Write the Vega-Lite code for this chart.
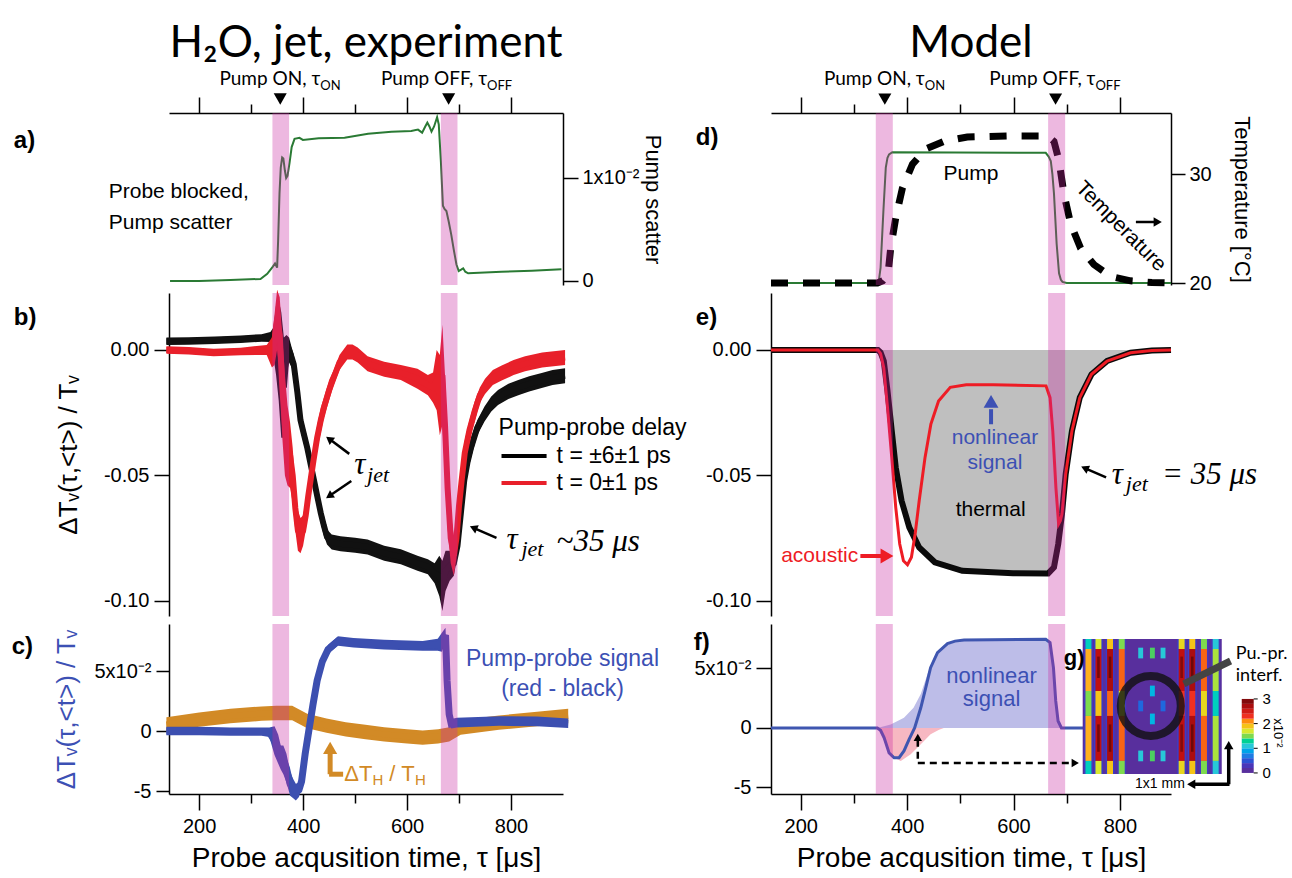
{
"$schema": "https://vega.github.io/schema/vega-lite/v6.json",
"background": "white",
"padding": {"left": 11, "top": 21, "right": 6, "bottom": 0},
"config": {
  "view": {"stroke": null},
  "font": "Liberation Sans",
  "axis": {"grid": false, "domainColor": "#000000", "tickColor": "#000000", "labelColor": "#000000", "titleColor": "#000000", "domainWidth": 1.5, "tickWidth": 1.5, "labelFontSize": 20, "titleFontWeight": "normal", "labelFont": "Liberation Sans", "titleFont": "Liberation Sans"}
},
"datasets": {
  "bands": [{"x":341,"x2":373},{"x":665,"x2":697}],
  "a_line": [{"x":144,"y":0.0},{"x":200,"y":0.0},{"x":260,"y":0.01},{"x":318,"y":0.02},{"x":331,"y":0.07},{"x":341.8,"y":0.14},{"x":346,"y":0.17},{"x":350,"y":0.13},{"x":352,"y":0.4},{"x":354.6,"y":0.85},{"x":357,"y":1.1},{"x":359.7,"y":1.2},{"x":362,"y":1.19},{"x":365,"y":1.07},{"x":367.4,"y":1.0},{"x":370,"y":1.02},{"x":374,"y":1.15},{"x":378,"y":1.3},{"x":383.5,"y":1.38},{"x":393,"y":1.39},{"x":399.6,"y":1.37},{"x":430,"y":1.385},{"x":479.8,"y":1.39},{"x":525,"y":1.43},{"x":570,"y":1.45},{"x":608,"y":1.456},{"x":621,"y":1.47},{"x":629,"y":1.44},{"x":635,"y":1.5},{"x":639,"y":1.537},{"x":643,"y":1.5},{"x":647,"y":1.45},{"x":652,"y":1.5},{"x":657.8,"y":1.59},{"x":661,"y":1.52},{"x":665,"y":1.165},{"x":669,"y":0.73},{"x":672,"y":0.7},{"x":675.7,"y":0.68},{"x":680,"y":0.58},{"x":685,"y":0.45},{"x":690,"y":0.3},{"x":695,"y":0.16},{"x":699.4,"y":0.097},{"x":704,"y":0.11},{"x":708,"y":0.123},{"x":712,"y":0.09},{"x":717.5,"y":0.075},{"x":781.7,"y":0.09},{"x":840,"y":0.1},{"x":897,"y":0.113}],
  "b_black": [{"x":137,"v":0.0035,"e":0.0015},{"x":180,"v":0.0036,"e":0.0015},{"x":230,"v":0.0039,"e":0.0015},{"x":280,"v":0.0043,"e":0.0015},{"x":320,"v":0.0048,"e":0.0015},{"x":337,"v":0.0052,"e":0.002},{"x":343,"v":0.003,"e":0.006},{"x":348,"v":0.004,"e":0.014},{"x":353,"v":0.0,"e":0.02},{"x":358,"v":-0.01,"e":0.025},{"x":363,"v":-0.015,"e":0.02},{"x":368,"v":-0.002,"e":0.008},{"x":373,"v":0.0,"e":0.005},{"x":378,"v":-0.003,"e":0.004},{"x":382,"v":-0.0057,"e":0.004},{"x":389,"v":-0.017,"e":0.004},{"x":395,"v":-0.028,"e":0.004},{"x":402,"v":-0.034,"e":0.004},{"x":408,"v":-0.039,"e":0.004},{"x":415,"v":-0.046,"e":0.004},{"x":421,"v":-0.052,"e":0.004},{"x":428,"v":-0.059,"e":0.004},{"x":434,"v":-0.065,"e":0.004},{"x":440,"v":-0.07,"e":0.004},{"x":446,"v":-0.0745,"e":0.003},{"x":455,"v":-0.0765,"e":0.003},{"x":472,"v":-0.0772,"e":0.003},{"x":500,"v":-0.0778,"e":0.003},{"x":524,"v":-0.0785,"e":0.003},{"x":556,"v":-0.081,"e":0.003},{"x":588,"v":-0.0824,"e":0.003},{"x":620,"v":-0.085,"e":0.003},{"x":640,"v":-0.0864,"e":0.003},{"x":653,"v":-0.089,"e":0.004},{"x":662,"v":-0.09,"e":0.008},{"x":668,"v":-0.094,"e":0.01},{"x":674,"v":-0.088,"e":0.008},{"x":682,"v":-0.086,"e":0.006},{"x":690,"v":-0.085,"e":0.005},{"x":697,"v":-0.078,"e":0.004},{"x":704,"v":-0.064,"e":0.004},{"x":710,"v":-0.052,"e":0.004},{"x":716,"v":-0.045,"e":0.004},{"x":723,"v":-0.039,"e":0.004},{"x":735,"v":-0.031,"e":0.003},{"x":749,"v":-0.0255,"e":0.003},{"x":762,"v":-0.0215,"e":0.003},{"x":775,"v":-0.0189,"e":0.003},{"x":795,"v":-0.0165,"e":0.003},{"x":814,"v":-0.015,"e":0.003},{"x":835,"v":-0.0135,"e":0.003},{"x":859,"v":-0.0122,"e":0.003},{"x":880,"v":-0.011,"e":0.003},{"x":904,"v":-0.0103,"e":0.003}],
  "b_red": [{"x":137,"v":0.0,"e":0.0015},{"x":180,"v":-0.0003,"e":0.0015},{"x":228,"v":-0.001,"e":0.0015},{"x":280,"v":-0.0006,"e":0.0015},{"x":330,"v":0.0,"e":0.002},{"x":340,"v":-0.001,"e":0.006},{"x":345,"v":0.004,"e":0.01},{"x":350,"v":0.012,"e":0.012},{"x":355,"v":0.006,"e":0.015},{"x":360,"v":-0.015,"e":0.02},{"x":365,"v":-0.03,"e":0.02},{"x":370,"v":-0.038,"e":0.016},{"x":375,"v":-0.042,"e":0.013},{"x":380,"v":-0.05,"e":0.011},{"x":385,"v":-0.063,"e":0.009},{"x":390,"v":-0.072,"e":0.008},{"x":395,"v":-0.074,"e":0.007},{"x":400,"v":-0.072,"e":0.006},{"x":405,"v":-0.066,"e":0.006},{"x":410,"v":-0.058,"e":0.005},{"x":415,"v":-0.051,"e":0.005},{"x":420,"v":-0.044,"e":0.005},{"x":427,"v":-0.035,"e":0.005},{"x":434,"v":-0.028,"e":0.005},{"x":440,"v":-0.023,"e":0.004},{"x":450,"v":-0.016,"e":0.004},{"x":459,"v":-0.011,"e":0.003},{"x":470,"v":-0.005,"e":0.003},{"x":485,"v":-0.0008,"e":0.003},{"x":495,"v":-0.0008,"e":0.003},{"x":505,"v":-0.002,"e":0.003},{"x":524,"v":-0.0055,"e":0.003},{"x":556,"v":-0.0077,"e":0.003},{"x":588,"v":-0.009,"e":0.003},{"x":620,"v":-0.0115,"e":0.004},{"x":640,"v":-0.014,"e":0.004},{"x":650,"v":-0.015,"e":0.006},{"x":657,"v":-0.012,"e":0.012},{"x":663,"v":-0.018,"e":0.016},{"x":668,"v":-0.01,"e":0.02},{"x":673,"v":-0.03,"e":0.02},{"x":678,"v":-0.055,"e":0.016},{"x":684,"v":-0.075,"e":0.01},{"x":690,"v":-0.082,"e":0.008},{"x":695,"v":-0.075,"e":0.008},{"x":700,"v":-0.062,"e":0.007},{"x":705,"v":-0.052,"e":0.006},{"x":711,"v":-0.041,"e":0.005},{"x":720,"v":-0.032,"e":0.004},{"x":730,"v":-0.0245,"e":0.004},{"x":740,"v":-0.018,"e":0.003},{"x":750,"v":-0.0145,"e":0.003},{"x":765,"v":-0.011,"e":0.003},{"x":782,"v":-0.0092,"e":0.003},{"x":805,"v":-0.007,"e":0.003},{"x":827,"v":-0.0055,"e":0.003},{"x":860,"v":-0.004,"e":0.003},{"x":904,"v":-0.003,"e":0.003}],
  "c_blue": [{"x":137,"v":0.0,"e":0.35},{"x":200,"v":0.0,"e":0.35},{"x":260,"v":-0.05,"e":0.35},{"x":320,"v":-0.05,"e":0.35},{"x":335,"v":-0.1,"e":0.4},{"x":345,"v":-0.8,"e":1.2},{"x":352,"v":-1.5,"e":1.2},{"x":357,"v":-2.2,"e":1.0},{"x":362,"v":-2.4,"e":1.2},{"x":368,"v":-3.1,"e":1.2},{"x":375,"v":-4.4,"e":1.0},{"x":381,"v":-4.8,"e":0.8},{"x":386,"v":-5.1,"e":0.7},{"x":392,"v":-4.9,"e":0.6},{"x":397,"v":-4.2,"e":0.6},{"x":404,"v":-1.9,"e":0.8},{"x":412,"v":0.3,"e":0.8},{"x":419,"v":2.2,"e":0.8},{"x":427,"v":4.2,"e":0.7},{"x":437,"v":5.8,"e":0.5},{"x":448,"v":6.8,"e":0.4},{"x":467,"v":7.5,"e":0.4},{"x":497,"v":7.36,"e":0.4},{"x":556,"v":7.2,"e":0.4},{"x":630,"v":7.1,"e":0.4},{"x":659,"v":7.2,"e":0.5},{"x":667,"v":7.4,"e":0.8},{"x":674,"v":8.0,"e":0.6},{"x":677,"v":4.2,"e":1.2},{"x":681,"v":1.4,"e":0.8},{"x":685,"v":0.6,"e":0.4},{"x":696,"v":0.7,"e":0.4},{"x":777,"v":0.83,"e":0.4},{"x":850,"v":0.8,"e":0.4},{"x":910,"v":0.65,"e":0.4}],
  "c_orange": [{"x":137,"v":0.55,"e":0.6},{"x":200,"v":0.95,"e":0.6},{"x":260,"v":1.25,"e":0.6},{"x":320,"v":1.45,"e":0.6},{"x":349,"v":1.5,"e":0.6},{"x":379,"v":1.5,"e":0.6},{"x":408,"v":0.83,"e":0.6},{"x":445,"v":0.45,"e":0.6},{"x":482,"v":0.14,"e":0.6},{"x":520,"v":-0.08,"e":0.6},{"x":556,"v":-0.28,"e":0.6},{"x":600,"v":-0.45,"e":0.6},{"x":630,"v":-0.55,"e":0.6},{"x":660,"v":-0.45,"e":0.6},{"x":681,"v":-0.28,"e":0.6},{"x":703,"v":0.28,"e":0.6},{"x":740,"v":0.5,"e":0.6},{"x":777,"v":0.7,"e":0.6},{"x":850,"v":1.0,"e":0.6},{"x":910,"v":1.25,"e":0.6}],
  "d_pump": [{"x":144,"y":20},{"x":344,"y":20},{"x":347,"y":20.3},{"x":350,"y":21.4},{"x":355.4,"y":26.7},{"x":359.8,"y":30.6},{"x":363,"y":31.5},{"x":366,"y":31.8},{"x":372,"y":32},{"x":660.5,"y":31.95},{"x":666,"y":31.6},{"x":670,"y":31.2},{"x":673,"y":30},{"x":676,"y":28.2},{"x":681,"y":23.6},{"x":685.5,"y":20.9},{"x":689,"y":20.3},{"x":692,"y":20.1},{"x":700,"y":20},{"x":896,"y":20}],
  "d_temp": [{"x":144,"y":20},{"x":344,"y":20},{"x":354,"y":20.2},{"x":364,"y":20.8},{"x":369,"y":23.2},{"x":378.6,"y":26},{"x":391,"y":28.7},{"x":410,"y":30.9},{"x":435,"y":32.3},{"x":469,"y":33},{"x":513,"y":33.4},{"x":590,"y":33.5},{"x":664,"y":33.5},{"x":676,"y":33},{"x":685.5,"y":31.2},{"x":695,"y":28.1},{"x":707.5,"y":25.4},{"x":726,"y":23.2},{"x":751,"y":21.7},{"x":783,"y":20.6},{"x":820,"y":20.2},{"x":860,"y":20.05},{"x":896,"y":20}],
  "e_black": [{"x":144,"y":0},{"x":345,"y":0},{"x":350,"y":-0.001},{"x":356,"y":-0.0044},{"x":363,"y":-0.0163},{"x":371,"y":-0.0322},{"x":378.5,"y":-0.0468},{"x":389.5,"y":-0.0601},{"x":404,"y":-0.0707},{"x":422.6,"y":-0.0787},{"x":452,"y":-0.0846},{"x":503.5,"y":-0.088},{"x":599,"y":-0.089},{"x":665,"y":-0.0891},{"x":676,"y":-0.0866},{"x":684,"y":-0.0773},{"x":691,"y":-0.0654},{"x":698,"y":-0.0495},{"x":709.8,"y":-0.0322},{"x":724.5,"y":-0.019},{"x":746.5,"y":-0.0097},{"x":776,"y":-0.0044},{"x":820,"y":-0.0011},{"x":860,"y":-0.0002},{"x":896,"y":0}],
  "e_red": [{"x":144,"y":0},{"x":345,"y":0},{"x":350,"y":-0.0015},{"x":356,"y":-0.0071},{"x":363,"y":-0.0229},{"x":371,"y":-0.0428},{"x":378.5,"y":-0.0627},{"x":386,"y":-0.0773},{"x":393,"y":-0.084},{"x":400.6,"y":-0.0856},{"x":408,"y":-0.0826},{"x":415,"y":-0.0733},{"x":422.6,"y":-0.0601},{"x":433.6,"y":-0.0428},{"x":444.6,"y":-0.0295},{"x":459,"y":-0.0203},{"x":481,"y":-0.0149},{"x":511,"y":-0.0139},{"x":562,"y":-0.0139},{"x":661,"y":-0.0143},{"x":668.6,"y":-0.019},{"x":673.7,"y":-0.0322},{"x":679.6,"y":-0.0548},{"x":684.7,"y":-0.0693},{"x":688,"y":-0.068},{"x":691,"y":-0.0654},{"x":698,"y":-0.0495},{"x":709.8,"y":-0.0322},{"x":724.5,"y":-0.019},{"x":746.5,"y":-0.0097},{"x":776,"y":-0.0044},{"x":820,"y":-0.0011},{"x":860,"y":-0.0002},{"x":896,"y":0}],
  "f_blue": [{"x":144,"y":0},{"x":344,"y":0},{"x":350,"y":-0.2},{"x":356.6,"y":-0.8},{"x":366,"y":-2.1},{"x":375.4,"y":-2.5},{"x":384.8,"y":-2.5},{"x":394,"y":-1.93},{"x":403.6,"y":-0.95},{"x":414,"y":0},{"x":425.6,"y":1.7},{"x":435,"y":3.4},{"x":444,"y":5.07},{"x":457,"y":6.33},{"x":475.8,"y":7.09},{"x":490,"y":7.3},{"x":507,"y":7.39},{"x":660.5,"y":7.45},{"x":668.6,"y":7.17},{"x":675,"y":5.07},{"x":679.3,"y":2.27},{"x":683.7,"y":0.59},{"x":690,"y":0},{"x":896,"y":0}],
  "f_nl": [{"x":344,"y":0},{"x":369,"y":0.3},{"x":394,"y":0.87},{"x":412,"y":1.7},{"x":425.6,"y":2.85},{"x":438,"y":4.5},{"x":450,"y":5.9},{"x":469,"y":6.9},{"x":494.5,"y":7.3},{"x":507,"y":7.39},{"x":660.5,"y":7.45},{"x":668.6,"y":7.17},{"x":675,"y":5.07},{"x":679.3,"y":2.27},{"x":683.7,"y":0.59},{"x":690,"y":0}],
  "f_ac": [{"x":344,"y":0},{"x":350,"y":-0.5},{"x":363,"y":-1.65},{"x":375.4,"y":-2.5},{"x":388,"y":-2.77},{"x":406.7,"y":-2.2},{"x":425.6,"y":-1.37},{"x":444,"y":-0.53},{"x":460,"y":-0.14},{"x":469,"y":0}],
  "g_cells": [
    {"x":730,"x2":991.4,"y":-3.87,"y2":7.48,"v":0.1},
    {"x":732.4,"x2":749.2,"y":-3.87,"y2":7.48,"v":0.35},
    {"x":751.2,"x2":768.0,"y":-3.87,"y2":7.48,"v":0.4},
    {"x":773.0,"x2":789.8,"y":-3.87,"y2":7.48,"v":0.4},
    {"x":795.0,"x2":811.8,"y":-3.87,"y2":7.48,"v":0.35},
    {"x":907.6,"x2":924.4,"y":-3.87,"y2":7.48,"v":0.4},
    {"x":927.6,"x2":944.4,"y":-3.87,"y2":7.48,"v":0.4},
    {"x":949.6,"x2":966.4,"y":-3.87,"y2":7.48,"v":0.35},
    {"x":971.6,"x2":988.4,"y":-3.87,"y2":7.48,"v":0.3},
    {"x":735.2,"x2":746.4,"y":6.64,"y2":7.48,"v":1.2},
    {"x":735.2,"x2":746.4,"y":3.11,"y2":6.64,"v":2.0},
    {"x":735.2,"x2":746.4,"y":1.01,"y2":3.11,"v":1.5},
    {"x":735.2,"x2":746.4,"y":-2.77,"y2":1.01,"v":2.0},
    {"x":735.2,"x2":746.4,"y":-3.87,"y2":-2.77,"v":1.2},
    {"x":754.0,"x2":765.2,"y":6.64,"y2":7.48,"v":1.7},
    {"x":754.0,"x2":765.2,"y":3.11,"y2":6.64,"v":2.6},
    {"x":754.0,"x2":765.2,"y":1.01,"y2":3.11,"v":1.9},
    {"x":754.0,"x2":765.2,"y":-2.77,"y2":1.01,"v":2.6},
    {"x":754.0,"x2":765.2,"y":-3.87,"y2":-2.77,"v":1.7},
    {"x":775.8,"x2":787.0,"y":6.64,"y2":7.48,"v":1.9},
    {"x":775.8,"x2":787.0,"y":3.11,"y2":6.64,"v":2.7},
    {"x":775.8,"x2":787.0,"y":1.01,"y2":3.11,"v":2.2},
    {"x":775.8,"x2":787.0,"y":-2.77,"y2":1.01,"v":2.7},
    {"x":775.8,"x2":787.0,"y":-3.87,"y2":-2.77,"v":1.9},
    {"x":797.8,"x2":809.0,"y":6.64,"y2":7.48,"v":1.5},
    {"x":797.8,"x2":809.0,"y":3.11,"y2":6.64,"v":2.2},
    {"x":797.8,"x2":809.0,"y":1.01,"y2":3.11,"v":1.7},
    {"x":797.8,"x2":809.0,"y":-2.77,"y2":1.01,"v":2.2},
    {"x":797.8,"x2":809.0,"y":-3.87,"y2":-2.77,"v":1.5},
    {"x":910.4,"x2":921.6,"y":6.64,"y2":7.48,"v":1.8},
    {"x":910.4,"x2":921.6,"y":3.11,"y2":6.64,"v":2.6},
    {"x":910.4,"x2":921.6,"y":1.01,"y2":3.11,"v":2.3},
    {"x":910.4,"x2":921.6,"y":-2.77,"y2":1.01,"v":2.6},
    {"x":910.4,"x2":921.6,"y":-3.87,"y2":-2.77,"v":1.8},
    {"x":930.4,"x2":941.6,"y":6.64,"y2":7.48,"v":1.9},
    {"x":930.4,"x2":941.6,"y":3.11,"y2":6.64,"v":2.7},
    {"x":930.4,"x2":941.6,"y":1.01,"y2":3.11,"v":2.3},
    {"x":930.4,"x2":941.6,"y":-2.77,"y2":1.01,"v":2.7},
    {"x":930.4,"x2":941.6,"y":-3.87,"y2":-2.77,"v":1.9},
    {"x":952.4,"x2":963.6,"y":6.64,"y2":7.48,"v":1.5},
    {"x":952.4,"x2":963.6,"y":3.11,"y2":6.64,"v":2.2},
    {"x":952.4,"x2":963.6,"y":1.01,"y2":3.11,"v":1.8},
    {"x":952.4,"x2":963.6,"y":-2.77,"y2":1.01,"v":2.2},
    {"x":952.4,"x2":963.6,"y":-3.87,"y2":-2.77,"v":1.5},
    {"x":974.4,"x2":985.6,"y":6.64,"y2":7.48,"v":1.1},
    {"x":974.4,"x2":985.6,"y":3.11,"y2":6.64,"v":1.6},
    {"x":974.4,"x2":985.6,"y":1.01,"y2":3.11,"v":1.2},
    {"x":974.4,"x2":985.6,"y":-2.77,"y2":1.01,"v":1.6},
    {"x":974.4,"x2":985.6,"y":-3.87,"y2":-2.77,"v":1.1},
    {"x":757.2,"x2":762.0,"y":4.2,"y2":6.0,"v":2.95},
    {"x":757.2,"x2":762.0,"y":-2.0,"y2":0.3,"v":2.95},
    {"x":779.0,"x2":783.8,"y":4.2,"y2":6.0,"v":3.0},
    {"x":779.0,"x2":783.8,"y":-2.0,"y2":0.3,"v":3.0},
    {"x":913.6,"x2":918.4,"y":4.2,"y2":6.0,"v":2.9},
    {"x":913.6,"x2":918.4,"y":-2.0,"y2":0.3,"v":2.9},
    {"x":933.6,"x2":938.4,"y":4.2,"y2":6.0,"v":3.0},
    {"x":933.6,"x2":938.4,"y":-2.0,"y2":0.3,"v":3.0},
    {"x":834.4,"x2":843.6,"y":5.85,"y2":6.75,"v":1.1},
    {"x":834.4,"x2":843.6,"y":1.4,"y2":2.3,"v":0.6},
    {"x":834.4,"x2":843.6,"y":-2.8,"y2":-1.9,"v":1.1},
    {"x":856.4,"x2":865.6,"y":5.85,"y2":6.75,"v":1.4},
    {"x":856.4,"x2":865.6,"y":2.66,"y2":3.56,"v":1.0},
    {"x":856.4,"x2":865.6,"y":0.31,"y2":1.21,"v":1.0},
    {"x":856.4,"x2":865.6,"y":-2.8,"y2":-1.9,"v":1.4},
    {"x":876.4,"x2":885.6,"y":5.85,"y2":6.75,"v":1.1},
    {"x":876.4,"x2":885.6,"y":1.4,"y2":2.3,"v":0.6},
    {"x":876.4,"x2":885.6,"y":-2.8,"y2":-1.9,"v":1.1}
  ],
  "g_cbar": [
    {"x":1029,"x2":1051.5,"y":-3.78,"y2":-3.365,"v":0.1},
    {"x":1029,"x2":1051.5,"y":-3.365,"y2":-2.951,"v":0.3},
    {"x":1029,"x2":1051.5,"y":-2.951,"y2":-2.536,"v":0.5},
    {"x":1029,"x2":1051.5,"y":-2.536,"y2":-2.121,"v":0.7},
    {"x":1029,"x2":1051.5,"y":-2.121,"y2":-1.707,"v":0.9},
    {"x":1029,"x2":1051.5,"y":-1.707,"y2":-1.292,"v":1.1},
    {"x":1029,"x2":1051.5,"y":-1.292,"y2":-0.877,"v":1.3},
    {"x":1029,"x2":1051.5,"y":-0.877,"y2":-0.463,"v":1.5},
    {"x":1029,"x2":1051.5,"y":-0.463,"y2":-0.048,"v":1.7},
    {"x":1029,"x2":1051.5,"y":-0.048,"y2":0.367,"v":1.9},
    {"x":1029,"x2":1051.5,"y":0.367,"y2":0.781,"v":2.1},
    {"x":1029,"x2":1051.5,"y":0.781,"y2":1.196,"v":2.3},
    {"x":1029,"x2":1051.5,"y":1.196,"y2":1.611,"v":2.5},
    {"x":1029,"x2":1051.5,"y":1.611,"y2":2.025,"v":2.7},
    {"x":1029,"x2":1051.5,"y":2.025,"y2":2.44,"v":2.9}
  ]
},
"columns": 2,
"align": "each",
"bounds": "flush",
"spacing": {"row": 8, "column": 208},
"concat": [
 {
  "width": 394, "height": 172,
  "layer": [
   {"data": {"name": "a_line"}, "mark": {"type": "line", "color": "#2a7a34", "strokeWidth": 2},
    "encoding": {
     "x": {"field": "x", "type": "quantitative", "scale": {"domain": [142, 900], "nice": false, "zero": false},
           "axis": {"orient": "top", "values": [200,300,400,500,600,700,800], "labels": false, "title": null, "tickSize": {"condition": {"test": "datum.value % 200 === 0", "value": 16}, "value": 9}}},
     "y": {"field": "y", "type": "quantitative", "scale": {"domain": [-0.039, 1.631], "nice": false, "zero": false},
           "axis": {"orient": "right", "values": [0, 1], "labelExpr": "datum.value == 0 ? '0' : '1x10⁻²'", "tickSize": 15, "labelPadding": 4, "title": "Pump scatter", "titleFontSize": 22, "titlePadding": 1}}}},
   {"data": {"name": "bands"}, "mark": {"type": "rect", "color": "#c828a0", "opacity": 0.33},
    "encoding": {"x": {"field": "x", "type": "quantitative", "scale": {"domain": [142, 900], "nice": false, "zero": false}}, "x2": {"field": "x2"}}},
   {"data": {"values": [{"x": 521, "y": 2.175, "t": "H₂O, jet, experiment"}]},
    "mark": {"type": "text", "font": "Lato", "fontSize": 44, "align": "center", "baseline": "alphabetic", "color": "#000000"},
    "encoding": {"x": {"field": "x", "type": "quantitative", "scale": {"domain": [142, 900], "nice": false, "zero": false}},
                 "y": {"field": "y", "type": "quantitative", "scale": {"domain": [-0.039, 1.631], "nice": false, "zero": false}},
                 "text": {"field": "t"}}},
   {"data": {"values": [{"x": 433, "y": 1.903, "t": "Pump ON, τ"}, {"x": 754, "y": 1.903, "t": "Pump OFF, τ"}]},
    "mark": {"type": "text", "font": "Lato", "fontSize": 19, "align": "right", "baseline": "alphabetic", "color": "#000000"},
    "encoding": {"x": {"field": "x", "type": "quantitative", "scale": {"domain": [142, 900], "nice": false, "zero": false}},
                 "y": {"field": "y", "type": "quantitative", "scale": {"domain": [-0.039, 1.631], "nice": false, "zero": false}},
                 "text": {"field": "t"}}},
   {"data": {"values": [{"x": 433, "y": 1.854, "t": "ON"}, {"x": 754, "y": 1.854, "t": "OFF"}]},
    "mark": {"type": "text", "font": "Lato", "fontSize": 13, "align": "left", "baseline": "alphabetic", "color": "#000000"},
    "encoding": {"x": {"field": "x", "type": "quantitative", "scale": {"domain": [142, 900], "nice": false, "zero": false}},
                 "y": {"field": "y", "type": "quantitative", "scale": {"domain": [-0.039, 1.631], "nice": false, "zero": false}},
                 "text": {"field": "t"}}},
   {"data": {"values": [{"x": 356, "y": 1.767}, {"x": 680, "y": 1.767}]},
    "mark": {"type": "point", "shape": "triangle-down", "filled": true, "color": "#000000", "opacity": 1, "size": 170},
    "encoding": {"x": {"field": "x", "type": "quantitative", "scale": {"domain": [142, 900], "nice": false, "zero": false}},
                 "y": {"field": "y", "type": "quantitative", "scale": {"domain": [-0.039, 1.631], "nice": false, "zero": false}}}},
   {"data": {"values": [{"x": -156.6, "y": 1.36, "t": "a)"}]},
    "mark": {"type": "text", "fontSize": 24, "fontWeight": "bold", "align": "left", "baseline": "middle", "color": "#000000"},
    "encoding": {"x": {"field": "x", "type": "quantitative", "scale": {"domain": [142, 900], "nice": false, "zero": false}},
                 "y": {"field": "y", "type": "quantitative", "scale": {"domain": [-0.039, 1.631], "nice": false, "zero": false}},
                 "text": {"field": "t"}}},
   {"data": {"values": [{"x": 26, "y": 0.806, "t": "Probe blocked,"}, {"x": 26, "y": 0.505, "t": "Pump scatter"}]},
    "mark": {"type": "text", "fontSize": 21, "align": "left", "baseline": "alphabetic", "color": "#000000"},
    "encoding": {"x": {"field": "x", "type": "quantitative", "scale": {"domain": [142, 900], "nice": false, "zero": false}},
                 "y": {"field": "y", "type": "quantitative", "scale": {"domain": [-0.039, 1.631], "nice": false, "zero": false}},
                 "text": {"field": "t"}}}
  ]
 },
 {
  "width": 400, "height": 172,
  "layer": [
   {"data": {"name": "d_pump"}, "mark": {"type": "line", "color": "#2a7a34", "strokeWidth": 2},
    "encoding": {
     "x": {"field": "x", "type": "quantitative", "scale": {"domain": [144, 896], "nice": false, "zero": false},
           "axis": {"orient": "top", "values": [200,300,400,500,600,700,800], "labels": false, "title": null, "tickSize": {"condition": {"test": "datum.value % 200 === 0", "value": 16}, "value": 9}}},
     "y": {"field": "y", "type": "quantitative", "scale": {"domain": [19.82, 35.6], "nice": false, "zero": false},
           "axis": {"orient": "right", "values": [20, 30], "tickSize": 14, "labelPadding": 4, "title": "Temperature [°C]", "titleFontSize": 22, "titlePadding": 18}}}},
   {"data": {"name": "d_temp"}, "mark": {"type": "line", "color": "#000000", "strokeWidth": 7, "strokeDash": [17, 15]},
    "encoding": {"x": {"field": "x", "type": "quantitative", "scale": {"domain": [144, 896], "nice": false, "zero": false}},
                 "y": {"field": "y", "type": "quantitative", "scale": {"domain": [19.82, 35.6], "nice": false, "zero": false}}}},
   {"data": {"name": "bands"}, "mark": {"type": "rect", "color": "#c828a0", "opacity": 0.33},
    "encoding": {"x": {"field": "x", "type": "quantitative", "scale": {"domain": [144, 896], "nice": false, "zero": false}}, "x2": {"field": "x2"}}},
   {"data": {"values": [{"x": 520, "y": 40.73, "t": "Model"}]},
    "mark": {"type": "text", "font": "Lato", "fontSize": 44, "align": "center", "baseline": "alphabetic", "color": "#000000"},
    "encoding": {"x": {"field": "x", "type": "quantitative", "scale": {"domain": [144, 896], "nice": false, "zero": false}},
                 "y": {"field": "y", "type": "quantitative", "scale": {"domain": [19.82, 35.6], "nice": false, "zero": false}},
                 "text": {"field": "t"}}},
   {"data": {"values": [{"x": 433, "y": 38.17, "t": "Pump ON, τ"}, {"x": 754, "y": 38.17, "t": "Pump OFF, τ"}]},
    "mark": {"type": "text", "font": "Lato", "fontSize": 19, "align": "right", "baseline": "alphabetic", "color": "#000000"},
    "encoding": {"x": {"field": "x", "type": "quantitative", "scale": {"domain": [144, 896], "nice": false, "zero": false}},
                 "y": {"field": "y", "type": "quantitative", "scale": {"domain": [19.82, 35.6], "nice": false, "zero": false}},
                 "text": {"field": "t"}}},
   {"data": {"values": [{"x": 433, "y": 37.71, "t": "ON"}, {"x": 754, "y": 37.71, "t": "OFF"}]},
    "mark": {"type": "text", "font": "Lato", "fontSize": 13, "align": "left", "baseline": "alphabetic", "color": "#000000"},
    "encoding": {"x": {"field": "x", "type": "quantitative", "scale": {"domain": [144, 896], "nice": false, "zero": false}},
                 "y": {"field": "y", "type": "quantitative", "scale": {"domain": [19.82, 35.6], "nice": false, "zero": false}},
                 "text": {"field": "t"}}},
   {"data": {"values": [{"x": 358, "y": 36.88}, {"x": 679, "y": 36.88}]},
    "mark": {"type": "point", "shape": "triangle-down", "filled": true, "color": "#000000", "opacity": 1, "size": 170},
    "encoding": {"x": {"field": "x", "type": "quantitative", "scale": {"domain": [144, 896], "nice": false, "zero": false}},
                 "y": {"field": "y", "type": "quantitative", "scale": {"domain": [19.82, 35.6], "nice": false, "zero": false}}}},
   {"data": {"values": [{"x": 2.6, "y": 33.3, "t": "d)"}]},
    "mark": {"type": "text", "fontSize": 24, "fontWeight": "bold", "align": "left", "baseline": "middle", "color": "#000000"},
    "encoding": {"x": {"field": "x", "type": "quantitative", "scale": {"domain": [144, 896], "nice": false, "zero": false}},
                 "y": {"field": "y", "type": "quantitative", "scale": {"domain": [19.82, 35.6], "nice": false, "zero": false}},
                 "text": {"field": "t"}}},
   {"data": {"values": [{"x": 520, "y": 29.45, "t": "Pump"}]},
    "mark": {"type": "text", "fontSize": 21, "align": "center", "baseline": "alphabetic", "color": "#000000"},
    "encoding": {"x": {"field": "x", "type": "quantitative", "scale": {"domain": [144, 896], "nice": false, "zero": false}},
                 "y": {"field": "y", "type": "quantitative", "scale": {"domain": [19.82, 35.6], "nice": false, "zero": false}},
                 "text": {"field": "t"}}},
   {"data": {"values": [{"x": 801.5, "y": 25.18, "t": "Temperature"}]},
    "mark": {"type": "text", "fontSize": 21, "align": "center", "baseline": "middle", "angle": 45, "color": "#000000"},
    "encoding": {"x": {"field": "x", "type": "quantitative", "scale": {"domain": [144, 896], "nice": false, "zero": false}},
                 "y": {"field": "y", "type": "quantitative", "scale": {"domain": [19.82, 35.6], "nice": false, "zero": false}},
                 "text": {"field": "t"}}},
   {"data": {"values": [{"x": 830, "x2": 866, "y": 25.6}]},
    "mark": {"type": "rule", "color": "#000000", "strokeWidth": 2.5},
    "encoding": {"x": {"field": "x", "type": "quantitative", "scale": {"domain": [144, 896], "nice": false, "zero": false}}, "x2": {"field": "x2"},
                 "y": {"field": "y", "type": "quantitative", "scale": {"domain": [19.82, 35.6], "nice": false, "zero": false}}}},
   {"data": {"values": [{"x": 871, "y": 25.6}]},
    "mark": {"type": "point", "shape": "triangle-right", "filled": true, "color": "#000000", "opacity": 1, "size": 90},
    "encoding": {"x": {"field": "x", "type": "quantitative", "scale": {"domain": [144, 896], "nice": false, "zero": false}},
                 "y": {"field": "y", "type": "quantitative", "scale": {"domain": [19.82, 35.6], "nice": false, "zero": false}}}}
  ]
 },
 {
  "width": 394, "height": 323,
  "layer": [
   {"data": {"name": "b_black"}, "mark": {"type": "errorband", "color": "#111111", "opacity": 1},
    "encoding": {
     "x": {"field": "x", "type": "quantitative", "scale": {"domain": [142, 900], "nice": false, "zero": false}, "axis": null},
     "y": {"field": "v", "type": "quantitative", "title": "ΔTᵥ(τ,<t>) / Tᵥ", "scale": {"domain": [-0.106, 0.0227], "nice": false, "zero": false},
           "axis": {"orient": "left", "values": [0, -0.05, -0.1], "labelExpr": "datum.value == 0 ? '0.00' : (datum.value < -0.07 ? '-0.10' : '-0.05')", "tickSize": 15, "labelPadding": 5, "title": "ΔTᵥ(τ,<t>) / Tᵥ", "titleFontSize": 26, "titlePadding": 22}},
     "yError": {"field": "e"}}},
   {"data": {"name": "b_black"}, "mark": {"type": "line", "color": "#111111", "strokeWidth": 6},
    "encoding": {"x": {"field": "x", "type": "quantitative", "scale": {"domain": [142, 900], "nice": false, "zero": false}, "axis": null},
                 "y": {"field": "v", "type": "quantitative", "title": "ΔTᵥ(τ,<t>) / Tᵥ", "scale": {"domain": [-0.106, 0.0227], "nice": false, "zero": false}}}},
   {"data": {"name": "b_red"}, "mark": {"type": "errorband", "color": "#e8202a", "opacity": 1},
    "encoding": {
     "x": {"field": "x", "type": "quantitative", "scale": {"domain": [142, 900], "nice": false, "zero": false}, "axis": null},
     "y": {"field": "v", "type": "quantitative", "title": "ΔTᵥ(τ,<t>) / Tᵥ", "scale": {"domain": [-0.106, 0.0227], "nice": false, "zero": false}},
     "yError": {"field": "e"}}},
   {"data": {"name": "b_red"}, "mark": {"type": "line", "color": "#e8202a", "strokeWidth": 6},
    "encoding": {"x": {"field": "x", "type": "quantitative", "scale": {"domain": [142, 900], "nice": false, "zero": false}, "axis": null},
                 "y": {"field": "v", "type": "quantitative", "title": "ΔTᵥ(τ,<t>) / Tᵥ", "scale": {"domain": [-0.106, 0.0227], "nice": false, "zero": false}}}},
   {"data": {"name": "bands"}, "mark": {"type": "rect", "color": "#c828a0", "opacity": 0.33},
    "encoding": {"x": {"field": "x", "type": "quantitative", "scale": {"domain": [142, 900], "nice": false, "zero": false}, "axis": null}, "x2": {"field": "x2"}}},
   {"data": {"values": [{"x": 776, "y": -0.0311, "t": "Pump-probe delay"}, {"x": 887.7, "y": -0.0422, "t": "t = ±6±1 ps"}, {"x": 887.7, "y": -0.053, "t": "t = 0±1 ps"}]},
    "mark": {"type": "text", "fontSize": 23, "align": "left", "baseline": "middle", "color": "#000000"},
    "encoding": {"x": {"field": "x", "type": "quantitative", "scale": {"domain": [142, 900], "nice": false, "zero": false}, "axis": null},
                 "y": {"field": "y", "type": "quantitative", "scale": {"domain": [-0.106, 0.0227], "nice": false, "zero": false}},
                 "text": {"field": "t"}}},
   {"data": {"values": [{"x": 781.7, "x2": 868.4, "y": -0.0422}]},
    "mark": {"type": "rule", "color": "#000000", "strokeWidth": 4},
    "encoding": {"x": {"field": "x", "type": "quantitative", "scale": {"domain": [142, 900], "nice": false, "zero": false}, "axis": null}, "x2": {"field": "x2"},
                 "y": {"field": "y", "type": "quantitative", "scale": {"domain": [-0.106, 0.0227], "nice": false, "zero": false}}}},
   {"data": {"values": [{"x": 781.7, "x2": 868.4, "y": -0.053}]},
    "mark": {"type": "rule", "color": "#e8202a", "strokeWidth": 4},
    "encoding": {"x": {"field": "x", "type": "quantitative", "scale": {"domain": [142, 900], "nice": false, "zero": false}, "axis": null}, "x2": {"field": "x2"},
                 "y": {"field": "y", "type": "quantitative", "scale": {"domain": [-0.106, 0.0227], "nice": false, "zero": false}}}},
   {"data": {"values": [{"x": 498.5, "y": -0.0494, "t": "τ"}, {"x": 791.3, "y": -0.0793, "t": "τ"}, {"x": 887.7, "y": -0.0801, "t": "~35 μs"}]},
    "mark": {"type": "text", "font": "Liberation Serif", "fontStyle": "italic", "fontSize": 31, "align": "left", "baseline": "alphabetic", "color": "#000000"},
    "encoding": {"x": {"field": "x", "type": "quantitative", "scale": {"domain": [142, 900], "nice": false, "zero": false}, "axis": null},
                 "y": {"field": "y", "type": "quantitative", "scale": {"domain": [-0.106, 0.0227], "nice": false, "zero": false}},
                 "text": {"field": "t"}}},
   {"data": {"values": [{"x": 523, "y": -0.0526, "t": "jet"}, {"x": 820, "y": -0.0821, "t": "jet"}]},
    "mark": {"type": "text", "font": "Liberation Serif", "fontStyle": "italic", "fontSize": 22, "align": "left", "baseline": "alphabetic", "color": "#000000"},
    "encoding": {"x": {"field": "x", "type": "quantitative", "scale": {"domain": [142, 900], "nice": false, "zero": false}, "axis": null},
                 "y": {"field": "y", "type": "quantitative", "scale": {"domain": [-0.106, 0.0227], "nice": false, "zero": false}},
                 "text": {"field": "t"}}},
   {"data": {"values": [{"x": 488.8, "y": -0.0414, "x2": 452.5, "y2": -0.0358}, {"x": 492.7, "y": -0.0522, "x2": 452.5, "y2": -0.0579}, {"x": 772, "y": -0.0749, "x2": 731, "y2": -0.0712}]},
    "mark": {"type": "rule", "color": "#000000", "strokeWidth": 2.5},
    "encoding": {"x": {"field": "x", "type": "quantitative", "scale": {"domain": [142, 900], "nice": false, "zero": false}, "axis": null}, "x2": {"field": "x2"},
                 "y": {"field": "y", "type": "quantitative", "scale": {"domain": [-0.106, 0.0227], "nice": false, "zero": false}}, "y2": {"field": "y2"}}},
   {"data": {"values": [{"x": 450.3, "y": -0.0355}]},
    "mark": {"type": "point", "shape": "triangle-up", "filled": true, "color": "#000000", "opacity": 1, "size": 80, "angle": 307},
    "encoding": {"x": {"field": "x", "type": "quantitative", "scale": {"domain": [142, 900], "nice": false, "zero": false}, "axis": null},
                 "y": {"field": "y", "type": "quantitative", "scale": {"domain": [-0.106, 0.0227], "nice": false, "zero": false}}}},
   {"data": {"values": [{"x": 450.3, "y": -0.0582}]},
    "mark": {"type": "point", "shape": "triangle-up", "filled": true, "color": "#000000", "opacity": 1, "size": 80, "angle": 236},
    "encoding": {"x": {"field": "x", "type": "quantitative", "scale": {"domain": [142, 900], "nice": false, "zero": false}, "axis": null},
                 "y": {"field": "y", "type": "quantitative", "scale": {"domain": [-0.106, 0.0227], "nice": false, "zero": false}}}},
   {"data": {"values": [{"x": 727.7, "y": -0.0709}]},
    "mark": {"type": "point", "shape": "triangle-up", "filled": true, "color": "#000000", "opacity": 1, "size": 80, "angle": 293.5},
    "encoding": {"x": {"field": "x", "type": "quantitative", "scale": {"domain": [142, 900], "nice": false, "zero": false}, "axis": null},
                 "y": {"field": "y", "type": "quantitative", "scale": {"domain": [-0.106, 0.0227], "nice": false, "zero": false}}}},
   {"data": {"values": [{"x": -156.6, "y": 0.01275, "t": "b)"}]},
    "mark": {"type": "text", "fontSize": 24, "fontWeight": "bold", "align": "left", "baseline": "middle", "color": "#000000"},
    "encoding": {"x": {"field": "x", "type": "quantitative", "scale": {"domain": [142, 900], "nice": false, "zero": false}, "axis": null},
                 "y": {"field": "y", "type": "quantitative", "scale": {"domain": [-0.106, 0.0227], "nice": false, "zero": false}},
                 "text": {"field": "t"}}}
  ]
 },
 {
  "width": 400, "height": 323,
  "layer": [
   {"data": {"name": "e_black"}, "mark": {"type": "area", "color": "#bfbfbf", "opacity": 1},
    "encoding": {
     "x": {"field": "x", "type": "quantitative", "scale": {"domain": [144, 896], "nice": false, "zero": false}, "axis": null},
     "y": {"field": "y", "type": "quantitative", "scale": {"domain": [-0.106, 0.0227], "nice": false, "zero": false},
           "axis": {"orient": "left", "values": [0, -0.05, -0.1], "labelExpr": "datum.value == 0 ? '0.00' : (datum.value < -0.07 ? '-0.10' : '-0.05')", "tickSize": 15, "labelPadding": 5, "title": null}},
     "y2": {"datum": 0}}},
   {"data": {"name": "e_black"}, "mark": {"type": "line", "color": "#0a0a0a", "strokeWidth": 6},
    "encoding": {"x": {"field": "x", "type": "quantitative", "scale": {"domain": [144, 896], "nice": false, "zero": false}, "axis": null},
                 "y": {"field": "y", "type": "quantitative", "scale": {"domain": [-0.106, 0.0227], "nice": false, "zero": false}}}},
   {"data": {"name": "e_red"}, "mark": {"type": "line", "color": "#ee1c25", "strokeWidth": 3},
    "encoding": {"x": {"field": "x", "type": "quantitative", "scale": {"domain": [144, 896], "nice": false, "zero": false}, "axis": null},
                 "y": {"field": "y", "type": "quantitative", "scale": {"domain": [-0.106, 0.0227], "nice": false, "zero": false}}}},
   {"data": {"name": "bands"}, "mark": {"type": "rect", "color": "#c828a0", "opacity": 0.33},
    "encoding": {"x": {"field": "x", "type": "quantitative", "scale": {"domain": [144, 896], "nice": false, "zero": false}, "axis": null}, "x2": {"field": "x2"}}},
   {"data": {"values": [{"x": 565, "y": -0.0349, "t": "nonlinear"}, {"x": 565, "y": -0.0449, "t": "signal"}]},
    "mark": {"type": "text", "fontSize": 21, "align": "center", "baseline": "middle", "color": "#3c50b4"},
    "encoding": {"x": {"field": "x", "type": "quantitative", "scale": {"domain": [144, 896], "nice": false, "zero": false}, "axis": null},
                 "y": {"field": "y", "type": "quantitative", "scale": {"domain": [-0.106, 0.0227], "nice": false, "zero": false}},
                 "text": {"field": "t"}}},
   {"data": {"values": [{"x": 557.7, "y": -0.0296, "y2": -0.0236}]},
    "mark": {"type": "rule", "color": "#3c50b4", "strokeWidth": 4},
    "encoding": {"x": {"field": "x", "type": "quantitative", "scale": {"domain": [144, 896], "nice": false, "zero": false}, "axis": null},
                 "y": {"field": "y", "type": "quantitative", "scale": {"domain": [-0.106, 0.0227], "nice": false, "zero": false}}, "y2": {"field": "y2"}}},
   {"data": {"values": [{"x": 557.7, "y": -0.0205}]},
    "mark": {"type": "point", "shape": "triangle-up", "filled": true, "color": "#3c50b4", "opacity": 1, "size": 220},
    "encoding": {"x": {"field": "x", "type": "quantitative", "scale": {"domain": [144, 896], "nice": false, "zero": false}, "axis": null},
                 "y": {"field": "y", "type": "quantitative", "scale": {"domain": [-0.106, 0.0227], "nice": false, "zero": false}}}},
   {"data": {"values": [{"x": 557, "y": -0.0637, "t": "thermal"}]},
    "mark": {"type": "text", "fontSize": 21, "align": "center", "baseline": "middle", "color": "#000000"},
    "encoding": {"x": {"field": "x", "type": "quantitative", "scale": {"domain": [144, 896], "nice": false, "zero": false}, "axis": null},
                 "y": {"field": "y", "type": "quantitative", "scale": {"domain": [-0.106, 0.0227], "nice": false, "zero": false}},
                 "text": {"field": "t"}}},
   {"data": {"values": [{"x": 308, "y": -0.0821, "t": "acoustic"}]},
    "mark": {"type": "text", "fontSize": 21, "align": "right", "baseline": "middle", "color": "#ee1c25"},
    "encoding": {"x": {"field": "x", "type": "quantitative", "scale": {"domain": [144, 896], "nice": false, "zero": false}, "axis": null},
                 "y": {"field": "y", "type": "quantitative", "scale": {"domain": [-0.106, 0.0227], "nice": false, "zero": false}},
                 "text": {"field": "t"}}},
   {"data": {"values": [{"x": 312, "x2": 352, "y": -0.0821}]},
    "mark": {"type": "rule", "color": "#ee1c25", "strokeWidth": 4},
    "encoding": {"x": {"field": "x", "type": "quantitative", "scale": {"domain": [144, 896], "nice": false, "zero": false}, "axis": null}, "x2": {"field": "x2"},
                 "y": {"field": "y", "type": "quantitative", "scale": {"domain": [-0.106, 0.0227], "nice": false, "zero": false}}}},
   {"data": {"values": [{"x": 362, "y": -0.0821}]},
    "mark": {"type": "point", "shape": "triangle-right", "filled": true, "color": "#ee1c25", "opacity": 1, "size": 220},
    "encoding": {"x": {"field": "x", "type": "quantitative", "scale": {"domain": [144, 896], "nice": false, "zero": false}, "axis": null},
                 "y": {"field": "y", "type": "quantitative", "scale": {"domain": [-0.106, 0.0227], "nice": false, "zero": false}}}},
   {"data": {"values": [{"x": 784.6, "y": -0.0534, "t": "τ"}, {"x": 879, "y": -0.0534, "t": "= 35 μs"}]},
    "mark": {"type": "text", "font": "Liberation Serif", "fontStyle": "italic", "fontSize": 31, "align": "left", "baseline": "alphabetic", "color": "#000000"},
    "encoding": {"x": {"field": "x", "type": "quantitative", "scale": {"domain": [144, 896], "nice": false, "zero": false}, "axis": null},
                 "y": {"field": "y", "type": "quantitative", "scale": {"domain": [-0.106, 0.0227], "nice": false, "zero": false}},
                 "text": {"field": "t"}}},
   {"data": {"values": [{"x": 811, "y": -0.0562, "t": "jet"}]},
    "mark": {"type": "text", "font": "Liberation Serif", "fontStyle": "italic", "fontSize": 22, "align": "left", "baseline": "alphabetic", "color": "#000000"},
    "encoding": {"x": {"field": "x", "type": "quantitative", "scale": {"domain": [144, 896], "nice": false, "zero": false}, "axis": null},
                 "y": {"field": "y", "type": "quantitative", "scale": {"domain": [-0.106, 0.0227], "nice": false, "zero": false}},
                 "text": {"field": "t"}}},
   {"data": {"values": [{"x": 774, "y": -0.0508, "x2": 737, "y2": -0.0474}]},
    "mark": {"type": "rule", "color": "#000000", "strokeWidth": 2.5},
    "encoding": {"x": {"field": "x", "type": "quantitative", "scale": {"domain": [144, 896], "nice": false, "zero": false}, "axis": null}, "x2": {"field": "x2"},
                 "y": {"field": "y", "type": "quantitative", "scale": {"domain": [-0.106, 0.0227], "nice": false, "zero": false}}, "y2": {"field": "y2"}}},
   {"data": {"values": [{"x": 733.8, "y": -0.0471}]},
    "mark": {"type": "point", "shape": "triangle-up", "filled": true, "color": "#000000", "opacity": 1, "size": 80, "angle": 293.7},
    "encoding": {"x": {"field": "x", "type": "quantitative", "scale": {"domain": [144, 896], "nice": false, "zero": false}, "axis": null},
                 "y": {"field": "y", "type": "quantitative", "scale": {"domain": [-0.106, 0.0227], "nice": false, "zero": false}}}},
   {"data": {"values": [{"x": 2.6, "y": 0.01275, "t": "e)"}]},
    "mark": {"type": "text", "fontSize": 24, "fontWeight": "bold", "align": "left", "baseline": "middle", "color": "#000000"},
    "encoding": {"x": {"field": "x", "type": "quantitative", "scale": {"domain": [144, 896], "nice": false, "zero": false}, "axis": null},
                 "y": {"field": "y", "type": "quantitative", "scale": {"domain": [-0.106, 0.0227], "nice": false, "zero": false}},
                 "text": {"field": "t"}}}
  ]
 },
 {
  "width": 394, "height": 170,
  "layer": [
   {"data": {"name": "c_orange"}, "mark": {"type": "errorband", "color": "#d28a26", "opacity": 1},
    "encoding": {
     "x": {"field": "x", "type": "quantitative", "scale": {"domain": [142, 900], "nice": false, "zero": false},
           "axis": {"orient": "bottom", "values": [200,300,400,500,600,700,800], "labelExpr": "datum.value % 200 === 0 ? datum.label : ''", "labelOverlap": false, "labelFlush": false, "tickSize": {"condition": {"test": "datum.value % 200 === 0", "value": 16}, "value": 9}, "labelPadding": 6, "title": "Probe acqusition time, τ [μs]", "titleFontSize": 28, "titlePadding": 8}},
     "y": {"field": "v", "type": "quantitative", "title": "ΔTᵥ(τ,<t>) / Tᵥ", "scale": {"domain": [-5.25, 8.92], "nice": false, "zero": false},
           "axis": {"orient": "left", "values": [-5, 0, 5], "labelExpr": "datum.value == 5 ? '5x10⁻²' : (datum.value == 0 ? '0' : '-5')", "tickSize": 13, "labelPadding": 5, "title": "ΔTᵥ(τ,<t>) / Tᵥ", "titleColor": "#3c50b4", "titleFontSize": 26, "titlePadding": 14}},
     "yError": {"field": "e"}}},
   {"data": {"name": "c_orange"}, "mark": {"type": "line", "color": "#d28a26", "strokeWidth": 6},
    "encoding": {"x": {"field": "x", "type": "quantitative", "scale": {"domain": [142, 900], "nice": false, "zero": false}},
                 "y": {"field": "v", "type": "quantitative", "title": "ΔTᵥ(τ,<t>) / Tᵥ", "scale": {"domain": [-5.25, 8.92], "nice": false, "zero": false}}}},
   {"data": {"name": "c_blue"}, "mark": {"type": "errorband", "color": "#3c4fb0", "opacity": 1},
    "encoding": {
     "x": {"field": "x", "type": "quantitative", "scale": {"domain": [142, 900], "nice": false, "zero": false}},
     "y": {"field": "v", "type": "quantitative", "title": "ΔTᵥ(τ,<t>) / Tᵥ", "scale": {"domain": [-5.25, 8.92], "nice": false, "zero": false}},
     "yError": {"field": "e"}}},
   {"data": {"name": "c_blue"}, "mark": {"type": "line", "color": "#3c4fb0", "strokeWidth": 7},
    "encoding": {"x": {"field": "x", "type": "quantitative", "scale": {"domain": [142, 900], "nice": false, "zero": false}},
                 "y": {"field": "v", "type": "quantitative", "title": "ΔTᵥ(τ,<t>) / Tᵥ", "scale": {"domain": [-5.25, 8.92], "nice": false, "zero": false}}}},
   {"data": {"name": "bands"}, "mark": {"type": "rect", "color": "#c828a0", "opacity": 0.33},
    "encoding": {"x": {"field": "x", "type": "quantitative", "scale": {"domain": [142, 900], "nice": false, "zero": false}}, "x2": {"field": "x2"}}},
   {"data": {"values": [{"x": 899, "y": 6.0, "t": "Pump-probe signal"}, {"x": 899, "y": 3.5, "t": "(red - black)"}]},
    "mark": {"type": "text", "fontSize": 23, "align": "center", "baseline": "middle", "color": "#3c50b4"},
    "encoding": {"x": {"field": "x", "type": "quantitative", "scale": {"domain": [142, 900], "nice": false, "zero": false}},
                 "y": {"field": "y", "type": "quantitative", "scale": {"domain": [-5.25, 8.92], "nice": false, "zero": false}},
                 "text": {"field": "t"}}},
   {"data": {"values": [{"x": 479.2, "y": -4.17, "t": "ΔT"}, {"x": 565.9, "y": -4.17, "t": "/ T"}]},
    "mark": {"type": "text", "fontSize": 22, "align": "left", "baseline": "alphabetic", "color": "#d28a26"},
    "encoding": {"x": {"field": "x", "type": "quantitative", "scale": {"domain": [142, 900], "nice": false, "zero": false}},
                 "y": {"field": "y", "type": "quantitative", "scale": {"domain": [-5.25, 8.92], "nice": false, "zero": false}},
                 "text": {"field": "t"}}},
   {"data": {"values": [{"x": 533.3, "y": -4.5, "t": "H"}, {"x": 615.4, "y": -4.5, "t": "H"}]},
    "mark": {"type": "text", "fontSize": 15, "align": "left", "baseline": "alphabetic", "color": "#d28a26"},
    "encoding": {"x": {"field": "x", "type": "quantitative", "scale": {"domain": [142, 900], "nice": false, "zero": false}},
                 "y": {"field": "y", "type": "quantitative", "scale": {"domain": [-5.25, 8.92], "nice": false, "zero": false}},
                 "text": {"field": "t"}}},
   {"data": {"values": [{"x": 452, "x2": 452, "y": -3.6, "y2": -1.6}, {"x": 450, "x2": 477, "y": -3.6, "y2": -3.6}]},
    "mark": {"type": "rule", "color": "#d28a26", "strokeWidth": 5},
    "encoding": {"x": {"field": "x", "type": "quantitative", "scale": {"domain": [142, 900], "nice": false, "zero": false}}, "x2": {"field": "x2"},
                 "y": {"field": "y", "type": "quantitative", "scale": {"domain": [-5.25, 8.92], "nice": false, "zero": false}}, "y2": {"field": "y2"}}},
   {"data": {"values": [{"x": 452, "y": -1.4}]},
    "mark": {"type": "point", "shape": "triangle-up", "filled": true, "color": "#d28a26", "opacity": 1, "size": 200},
    "encoding": {"x": {"field": "x", "type": "quantitative", "scale": {"domain": [142, 900], "nice": false, "zero": false}},
                 "y": {"field": "y", "type": "quantitative", "scale": {"domain": [-5.25, 8.92], "nice": false, "zero": false}}}},
   {"data": {"values": [{"x": -160.5, "y": 7.0, "t": "c)"}]},
    "mark": {"type": "text", "fontSize": 24, "fontWeight": "bold", "align": "left", "baseline": "middle", "color": "#000000"},
    "encoding": {"x": {"field": "x", "type": "quantitative", "scale": {"domain": [142, 900], "nice": false, "zero": false}},
                 "y": {"field": "y", "type": "quantitative", "scale": {"domain": [-5.25, 8.92], "nice": false, "zero": false}},
                 "text": {"field": "t"}}}
  ]
 },
 {
  "width": 400, "height": 170,
  "layer": [
   {"data": {"name": "f_nl"}, "mark": {"type": "area", "color": "#bdbde8", "opacity": 1},
    "encoding": {
     "x": {"field": "x", "type": "quantitative", "scale": {"domain": [144, 896], "nice": false, "zero": false},
           "axis": {"orient": "bottom", "values": [200,300,400,500,600,700,800], "labelExpr": "datum.value % 200 === 0 ? datum.label : ''", "labelOverlap": false, "labelFlush": false, "tickSize": {"condition": {"test": "datum.value % 200 === 0", "value": 16}, "value": 9}, "labelPadding": 6, "title": "Probe acqusition time, τ [μs]", "titleFontSize": 28, "titlePadding": 8}},
     "y": {"field": "y", "type": "quantitative", "scale": {"domain": [-5.55, 8.74], "nice": false, "zero": false},
           "axis": {"orient": "left", "values": [-5, 0, 5], "labelExpr": "datum.value == 5 ? '5x10⁻²' : (datum.value == 0 ? '0' : '-5')", "tickSize": 15, "labelPadding": 5, "title": null}},
     "y2": {"datum": 0}}},
   {"data": {"name": "f_ac"}, "mark": {"type": "area", "color": "#f7b8c2", "opacity": 1},
    "encoding": {"x": {"field": "x", "type": "quantitative", "scale": {"domain": [144, 896], "nice": false, "zero": false}},
                 "y": {"field": "y", "type": "quantitative", "scale": {"domain": [-5.55, 8.74], "nice": false, "zero": false}},
                 "y2": {"datum": 0}}},
   {"data": {"name": "f_blue"}, "mark": {"type": "line", "color": "#3f56b0", "strokeWidth": 3},
    "encoding": {"x": {"field": "x", "type": "quantitative", "scale": {"domain": [144, 896], "nice": false, "zero": false}},
                 "y": {"field": "y", "type": "quantitative", "scale": {"domain": [-5.55, 8.74], "nice": false, "zero": false}}}},
   {"data": {"name": "bands"}, "mark": {"type": "rect", "color": "#c828a0", "opacity": 0.33},
    "encoding": {"x": {"field": "x", "type": "quantitative", "scale": {"domain": [144, 896], "nice": false, "zero": false}}, "x2": {"field": "x2"}}},
   {"data": {"values": [{"x": 420, "x2": 420, "y": -1.0, "y2": -2.94}, {"x": 420, "x2": 711, "y": -2.94, "y2": -2.94}]},
    "mark": {"type": "rule", "color": "#000000", "strokeWidth": 2.5, "strokeDash": [7, 5]},
    "encoding": {"x": {"field": "x", "type": "quantitative", "scale": {"domain": [144, 896], "nice": false, "zero": false}}, "x2": {"field": "x2"},
                 "y": {"field": "y", "type": "quantitative", "scale": {"domain": [-5.55, 8.74], "nice": false, "zero": false}}, "y2": {"field": "y2"}}},
   {"data": {"values": [{"x": 420, "y": -0.8}]},
    "mark": {"type": "point", "shape": "triangle-up", "filled": true, "color": "#000000", "opacity": 1, "size": 70},
    "encoding": {"x": {"field": "x", "type": "quantitative", "scale": {"domain": [144, 896], "nice": false, "zero": false}},
                 "y": {"field": "y", "type": "quantitative", "scale": {"domain": [-5.55, 8.74], "nice": false, "zero": false}}}},
   {"data": {"values": [{"x": 716, "y": -2.94}]},
    "mark": {"type": "point", "shape": "triangle-right", "filled": true, "color": "#000000", "opacity": 1, "size": 70},
    "encoding": {"x": {"field": "x", "type": "quantitative", "scale": {"domain": [144, 896], "nice": false, "zero": false}},
                 "y": {"field": "y", "type": "quantitative", "scale": {"domain": [-5.55, 8.74], "nice": false, "zero": false}}}},
   {"data": {"values": [{"x": 558.7, "y": 4.37, "t": "nonlinear"}, {"x": 558.7, "y": 2.41, "t": "signal"}]},
    "mark": {"type": "text", "fontSize": 22, "align": "center", "baseline": "middle", "color": "#3c50b4"},
    "encoding": {"x": {"field": "x", "type": "quantitative", "scale": {"domain": [144, 896], "nice": false, "zero": false}},
                 "y": {"field": "y", "type": "quantitative", "scale": {"domain": [-5.55, 8.74], "nice": false, "zero": false}},
                 "text": {"field": "t"}}},
   {"data": {"name": "g_cells"}, "mark": {"type": "rect", "opacity": 1},
    "encoding": {"x": {"field": "x", "type": "quantitative", "scale": {"domain": [144, 896], "nice": false, "zero": false}}, "x2": {"field": "x2"},
                 "y": {"field": "y", "type": "quantitative", "scale": {"domain": [-5.55, 8.74], "nice": false, "zero": false}}, "y2": {"field": "y2"},
                 "color": {"field": "v", "type": "quantitative", "scale": {"domain": [0, 0.4, 0.8, 1.1, 1.4, 1.7, 2.0, 2.3, 2.6, 3.0], "range": ["#5b2c8f", "#3b3bc8", "#2f8fe8", "#27c8d8", "#4cd060", "#d8e830", "#ffb020", "#f03020", "#c01010", "#6e0808"]}, "legend": null}}},
   {"data": {"values": [{"x": 858, "y": 1.85}]},
    "mark": {"type": "point", "shape": "circle", "filled": false, "color": "#111111", "opacity": 0.8, "size": 3600, "strokeWidth": 8},
    "encoding": {"x": {"field": "x", "type": "quantitative", "scale": {"domain": [144, 896], "nice": false, "zero": false}},
                 "y": {"field": "y", "type": "quantitative", "scale": {"domain": [-5.55, 8.74], "nice": false, "zero": false}}}},
   {"data": {"values": [{"x": 920, "y": 3.7, "x2": 1008, "y2": 5.63}]},
    "mark": {"type": "rule", "color": "#444444", "strokeWidth": 7},
    "encoding": {"x": {"field": "x", "type": "quantitative", "scale": {"domain": [144, 896], "nice": false, "zero": false}}, "x2": {"field": "x2"},
                 "y": {"field": "y", "type": "quantitative", "scale": {"domain": [-5.55, 8.74], "nice": false, "zero": false}}, "y2": {"field": "y2"}}},
   {"data": {"values": [{"x": 694.4, "y": 5.88, "t": "g)"}]},
    "mark": {"type": "text", "fontSize": 22, "fontWeight": "bold", "align": "left", "baseline": "middle", "color": "#000000"},
    "encoding": {"x": {"field": "x", "type": "quantitative", "scale": {"domain": [144, 896], "nice": false, "zero": false}},
                 "y": {"field": "y", "type": "quantitative", "scale": {"domain": [-5.55, 8.74], "nice": false, "zero": false}},
                 "text": {"field": "t"}}},
   {"data": {"values": [{"x": 1017.7, "y": 6.22, "t": "Pu.-pr."}, {"x": 1017.7, "y": 4.37, "t": "interf."}]},
    "mark": {"type": "text", "font": "Lato", "fontSize": 18, "align": "left", "baseline": "middle", "color": "#000000"},
    "encoding": {"x": {"field": "x", "type": "quantitative", "scale": {"domain": [144, 896], "nice": false, "zero": false}},
                 "y": {"field": "y", "type": "quantitative", "scale": {"domain": [-5.55, 8.74], "nice": false, "zero": false}},
                 "text": {"field": "t"}}},
   {"data": {"name": "g_cbar"}, "mark": {"type": "rect", "opacity": 1},
    "encoding": {"x": {"field": "x", "type": "quantitative", "scale": {"domain": [144, 896], "nice": false, "zero": false}}, "x2": {"field": "x2"},
                 "y": {"field": "y", "type": "quantitative", "scale": {"domain": [-5.55, 8.74], "nice": false, "zero": false}}, "y2": {"field": "y2"},
                 "color": {"field": "v", "type": "quantitative", "scale": {"domain": [0, 0.4, 0.8, 1.1, 1.4, 1.7, 2.0, 2.3, 2.6, 3.0], "range": ["#5b2c8f", "#3b3bc8", "#2f8fe8", "#27c8d8", "#4cd060", "#d8e830", "#ffb020", "#f03020", "#c01010", "#6e0808"]}, "legend": null}}},
   {"data": {"values": [{"x": 1051.5, "x2": 1059, "y": -3.78}, {"x": 1051.5, "x2": 1059, "y": -1.707}, {"x": 1051.5, "x2": 1059, "y": 0.367}, {"x": 1051.5, "x2": 1059, "y": 2.44}]},
    "mark": {"type": "rule", "color": "#000000", "strokeWidth": 1},
    "encoding": {"x": {"field": "x", "type": "quantitative", "scale": {"domain": [144, 896], "nice": false, "zero": false}}, "x2": {"field": "x2"},
                 "y": {"field": "y", "type": "quantitative", "scale": {"domain": [-5.55, 8.74], "nice": false, "zero": false}}}},
   {"data": {"values": [{"x": 1068, "y": -3.78, "t": "0"}, {"x": 1068, "y": -1.707, "t": "1"}, {"x": 1068, "y": 0.367, "t": "2"}, {"x": 1068, "y": 2.44, "t": "3"}]},
    "mark": {"type": "text", "fontSize": 15, "align": "left", "baseline": "middle", "color": "#000000"},
    "encoding": {"x": {"field": "x", "type": "quantitative", "scale": {"domain": [144, 896], "nice": false, "zero": false}},
                 "y": {"field": "y", "type": "quantitative", "scale": {"domain": [-5.55, 8.74], "nice": false, "zero": false}},
                 "text": {"field": "t"}}},
   {"data": {"values": [{"x": 1097, "y": -0.42, "t": "x10⁻²"}]},
    "mark": {"type": "text", "fontSize": 13, "align": "center", "baseline": "middle", "angle": 90, "color": "#000000"},
    "encoding": {"x": {"field": "x", "type": "quantitative", "scale": {"domain": [144, 896], "nice": false, "zero": false}},
                 "y": {"field": "y", "type": "quantitative", "scale": {"domain": [-5.55, 8.74], "nice": false, "zero": false}},
                 "text": {"field": "t"}}},
   {"data": {"values": [{"x": 922, "y": -4.73, "t": "1x1 mm"}]},
    "mark": {"type": "text", "fontSize": 14, "align": "right", "baseline": "middle", "color": "#000000"},
    "encoding": {"x": {"field": "x", "type": "quantitative", "scale": {"domain": [144, 896], "nice": false, "zero": false}},
                 "y": {"field": "y", "type": "quantitative", "scale": {"domain": [-5.55, 8.74], "nice": false, "zero": false}},
                 "text": {"field": "t"}}},
   {"data": {"values": [{"x": 1004.5, "x2": 1004.5, "y": -4.73, "y2": -1.7}, {"x": 1006, "x2": 940, "y": -4.73, "y2": -4.73}]},
    "mark": {"type": "rule", "color": "#000000", "strokeWidth": 3.5},
    "encoding": {"x": {"field": "x", "type": "quantitative", "scale": {"domain": [144, 896], "nice": false, "zero": false}}, "x2": {"field": "x2"},
                 "y": {"field": "y", "type": "quantitative", "scale": {"domain": [-5.55, 8.74], "nice": false, "zero": false}}, "y2": {"field": "y2"}}},
   {"data": {"values": [{"x": 1004.5, "y": -1.45}]},
    "mark": {"type": "point", "shape": "triangle-up", "filled": true, "color": "#000000", "opacity": 1, "size": 90},
    "encoding": {"x": {"field": "x", "type": "quantitative", "scale": {"domain": [144, 896], "nice": false, "zero": false}},
                 "y": {"field": "y", "type": "quantitative", "scale": {"domain": [-5.55, 8.74], "nice": false, "zero": false}}}},
   {"data": {"values": [{"x": 934, "y": -4.73}]},
    "mark": {"type": "point", "shape": "triangle-left", "filled": true, "color": "#000000", "opacity": 1, "size": 90},
    "encoding": {"x": {"field": "x", "type": "quantitative", "scale": {"domain": [144, 896], "nice": false, "zero": false}},
                 "y": {"field": "y", "type": "quantitative", "scale": {"domain": [-5.55, 8.74], "nice": false, "zero": false}}}},
   {"data": {"values": [{"x": -1.1, "y": 7.15, "t": "f)"}]},
    "mark": {"type": "text", "fontSize": 24, "fontWeight": "bold", "align": "left", "baseline": "middle", "color": "#000000"},
    "encoding": {"x": {"field": "x", "type": "quantitative", "scale": {"domain": [144, 896], "nice": false, "zero": false}},
                 "y": {"field": "y", "type": "quantitative", "scale": {"domain": [-5.55, 8.74], "nice": false, "zero": false}},
                 "text": {"field": "t"}}}
  ]
 }
]
}
